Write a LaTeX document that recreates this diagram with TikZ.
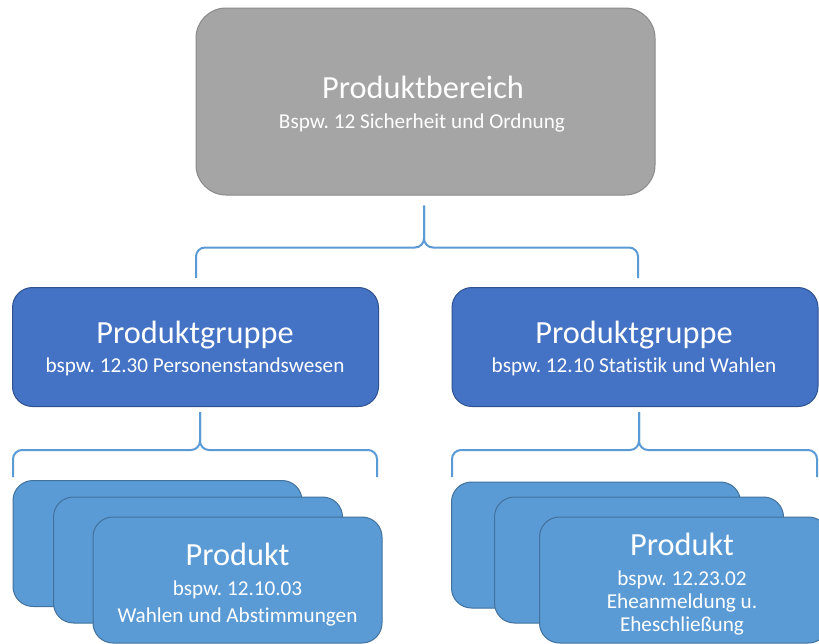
\documentclass[tikz,border=0pt]{standalone}
\usepackage{fontspec}
\setmainfont{Carlito}[Ligatures=NoCommon]
\frenchspacing
\usetikzlibrary{calc}
\definecolor{grayfill}{HTML}{A5A5A5}
\definecolor{graydraw}{HTML}{8A8A8A}
\definecolor{grpfill}{HTML}{4472C4}
\definecolor{grpdraw}{HTML}{2F528F}
\definecolor{cardfill}{HTML}{5B9BD5}
\definecolor{carddraw}{HTML}{41719C}
\definecolor{bracec}{HTML}{5B9BD5}
\tikzset{
  pbbox/.style={draw=graydraw, fill=grayfill, line width=1pt, rounded corners=30pt, inner sep=0pt, minimum width=459pt, minimum height=187pt},
  grpbox/.style={draw=grpdraw, fill=grpfill, line width=1pt, rounded corners=20pt, inner sep=0pt, minimum width=366pt, minimum height=119pt},
  cardbox/.style={draw=carddraw, fill=cardfill, line width=1pt, rounded corners=20pt, inner sep=0pt, minimum width=289pt, minimum height=126pt},
  titletxt/.style={text=white, inner sep=0pt, anchor=base, font=\fontsize{32.3}{38}\selectfont},
  subtxt/.style={text=white, inner sep=0pt, anchor=base, font=\fontsize{21.2}{25}\selectfont},
  bracelink/.style={draw=bracec, line width=2pt, rounded corners=9pt}
}
\begin{document}
\begin{tikzpicture}[x=1pt,y=-1pt]
\useasboundingbox[fill=white] (0,0) rectangle (819,643);
% top box
\node[pbbox] (pb) at (425.5,101.5) {};
\node[titletxt] (pbt) at (423,98) {Produktbereich};
\node[subtxt] (pbs) at (422,128) {Bspw. 12 Sicherheit und Ordnung};
% group boxes
\node[grpbox] (gl) at (195.5,347) {};
\node[titletxt] (glt) at (195,343) {Produktgruppe};
\node[subtxt] (gls) at (195,372) {bspw. 12.30 Personenstandswesen};
\node[grpbox] (gr) at (635,347) {};
\node[titletxt] (grt) at (634,343) {Produktgruppe};
\node[subtxt] (grs) at (634,372) {bspw. 12.10 Statistik und Wahlen};
% brace 1
\coordinate (b1s) at ($(pb.south)+(-1.5,10)$);
\coordinate (b1m) at ($(pb.south)+(-1.5,52)$);
\coordinate (b1l) at ($(gl.north)+(0.5,-9)$);
\coordinate (b1r) at ($(gr.north)+(3,-9)$);
\draw[bracelink] (b1l) -- (b1l |- b1m) -- (b1m) -- (b1s);
\draw[bracelink] (b1r) -- (b1r |- b1m) -- (b1m) -- (b1s);
% left cards
\node[cardbox] (lc1) at (157.5,543.5) {};
\node[cardbox] (lc2) at (198,560) {};
\node[cardbox] (lc3) at (237.5,580) {};
\node[titletxt] (lc3t) at (237.5,565) {Produkt};
\node[subtxt] (lc3a) at (237.5,595) {bspw. 12.10.03};
\node[subtxt] (lc3b) at (237.5,622) {Wahlen und Abstimmungen};
% right cards
\node[cardbox] (rc1) at (596,545) {};
\node[cardbox] (rc2) at (639,560) {};
\node[cardbox] (rc3) at (684,580) {};
\node[titletxt] (rc3t) at (682,555) {Produkt};
\node[subtxt] (rc3a) at (682,585) {bspw. 12.23.02};
\node[subtxt] (rc3b) at (682,608) {Eheanmeldung u.};
\node[subtxt] (rc3c) at (682,631) {Eheschließung};
% brace left
\coordinate (b2s) at ($(gl.south)+(4.5,5)$);
\coordinate (b2m) at ($(gl.south)+(4.5,43)$);
\coordinate (b2l) at (13,477);
\coordinate (b2r) at (377,477);
\draw[bracelink] (b2l) -- (b2l |- b2m) -- (b2m) -- (b2s);
\draw[bracelink] (b2r) -- (b2r |- b2m) -- (b2m) -- (b2s);
% brace right
\coordinate (b3s) at ($(gr.south)+(4,5)$);
\coordinate (b3m) at ($(gr.south)+(4,43)$);
\coordinate (b3l) at (452,477);
\coordinate (b3r) at (817,477);
\draw[bracelink] (b3l) -- (b3l |- b3m) -- (b3m) -- (b3s);
\draw[bracelink] (b3r) -- (b3r |- b3m) -- (b3m) -- (b3s);
\end{tikzpicture}
\end{document}
